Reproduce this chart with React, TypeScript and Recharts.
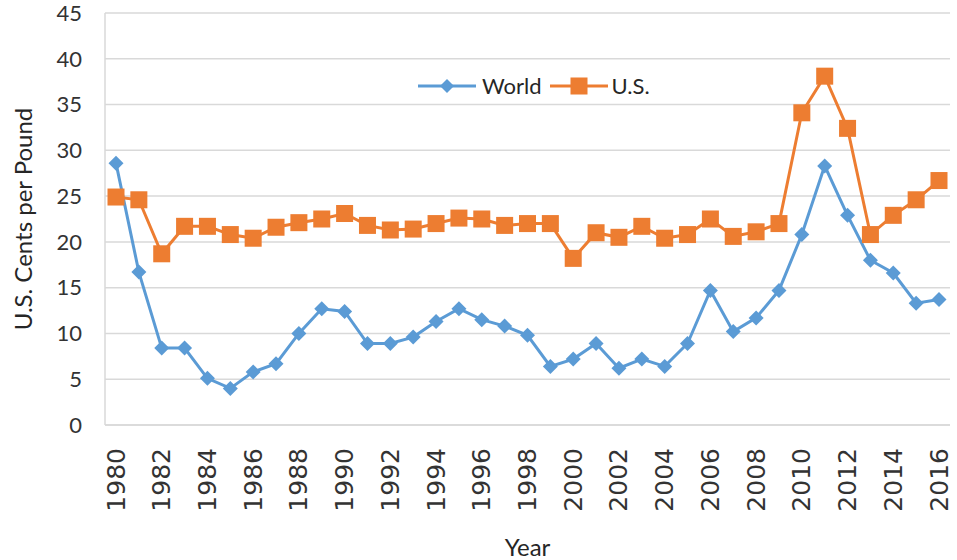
import { LineChart, Line, XAxis, YAxis, CartesianGrid } from "recharts";

const years = [
  "1980", "1981", "1982", "1983", "1984", "1985", "1986", "1987", "1988", "1989",
  "1990", "1991", "1992", "1993", "1994", "1995", "1996", "1997", "1998", "1999",
  "2000", "2001", "2002", "2003", "2004", "2005", "2006", "2007", "2008", "2009",
  "2010", "2011", "2012", "2013", "2014", "2015", "2016",
];

const world = [
  28.6, 16.7, 8.4, 8.4, 5.1, 4.0, 5.8, 6.7, 10.0, 12.7,
  12.4, 8.9, 8.9, 9.6, 11.3, 12.7, 11.5, 10.8, 9.8, 6.4,
  7.2, 8.9, 6.2, 7.2, 6.4, 8.9, 14.7, 10.2, 11.7, 14.7,
  20.8, 28.3, 22.9, 18.0, 16.6, 13.3, 13.7,
];

const us = [
  24.9, 24.6, 18.7, 21.7, 21.7, 20.8, 20.4, 21.6, 22.1, 22.5,
  23.1, 21.8, 21.3, 21.4, 22.0, 22.6, 22.5, 21.8, 22.0, 22.0,
  18.2, 21.0, 20.5, 21.7, 20.4, 20.8, 22.5, 20.6, 21.1, 22.0,
  34.1, 38.1, 32.4, 20.8, 22.9, 24.6, 26.7,
];

const yTicks = [0, 5, 10, 15, 20, 25, 30, 35, 40, 45];

const data = years.map((year, i) => ({ year, world: world[i], us: us[i] }));

const BLUE = "#5B9BD5";
const ORANGE = "#ED7D31";

const Diamond = (props: any) => {
  const { cx, cy } = props;
  if (cx == null || cy == null) return null;
  const r = 7.5;
  return (
    <polygon
      points={`${cx},${cy - r} ${cx + r},${cy} ${cx},${cy + r} ${cx - r},${cy}`}
      fill={BLUE}
    />
  );
};

const Square = (props: any) => {
  const { cx, cy } = props;
  if (cx == null || cy == null) return null;
  const s = 17;
  return <rect x={cx - s / 2} y={cy - s / 2} width={s} height={s} fill={ORANGE} />;
};

const YearTick = (props: any) => {
  const { x, y, payload } = props;
  const ty = y + 15;
  return (
    <text
      x={x}
      y={ty}
      transform={`rotate(-90, ${x}, ${ty})`}
      textAnchor="end"
      dominantBaseline="central"
      fontFamily="DejaVu Sans"
      fontSize={25}
      fill="#333"
    >
      {payload.value}
    </text>
  );
};

// legend sits inside the plot, so it is drawn as an overlay
const LegendBox = () => (
  <div
    style={{
      position: "absolute",
      left: 418,
      top: 72,
      display: "flex",
      alignItems: "center",
      fontFamily: "Lato",
      fontSize: 22,
      color: "#262626",
    }}
  >
    <svg width={58} height={16}>
      <line x1={0} y1={8} x2={58} y2={8} stroke={BLUE} strokeWidth={3} />
      <polygon points="29,1 36,8 29,15 22,8" fill={BLUE} />
    </svg>
    <span style={{ marginLeft: 6, marginRight: 8 }}>World</span>
    <svg width={58} height={18}>
      <line x1={0} y1={9} x2={58} y2={9} stroke={ORANGE} strokeWidth={3} />
      <rect x={20.5} y={0.5} width={17} height={17} fill={ORANGE} />
    </svg>
    <span style={{ marginLeft: 4 }}>U.S.</span>
  </div>
);

const App = () => {
  return (
    <div style={{ position: "absolute", left: 0, top: 0, width: 957, height: 560, background: "#fff" }}>
      <LineChart width={957} height={560} data={data} margin={{ top: 13, right: 7, bottom: 0, left: 0 }}>
        <CartesianGrid vertical={false} stroke="#D9D9D9" strokeWidth={1.5} />
        <XAxis
          dataKey="year"
          interval={1}
          height={135}
          padding={{ left: 11, right: 11 }}
          tickLine={false}
          axisLine={{ stroke: "#D9D9D9", strokeWidth: 1.5 }}
          tick={<YearTick />}
          label={{ value: "Year", position: "insideBottom", offset: 4, fontFamily: "Lato", fontSize: 24, fill: "#262626" }}
        />
        <YAxis
          domain={[0, 45]}
          ticks={yTicks}
          width={105}
          tickLine={false}
          tickSize={0}
          tickMargin={23}
          axisLine={{ stroke: "#D9D9D9", strokeWidth: 1.5 }}
          tick={{ fontFamily: "Lato", fontSize: 22, fill: "#333" }}
          label={(p: any) => {
            const vb = p.viewBox;
            const cy = vb.y + vb.height / 2;
            return (
              <text
                x={22}
                y={cy}
                transform={`rotate(-90, 22, ${cy})`}
                textAnchor="middle"
                dominantBaseline="central"
                fontFamily="Lato"
                fontSize={24}
                fill="#262626"
              >
                U.S. Cents per Pound
              </text>
            );
          }}
        />
        <Line
          dataKey="world"
          name="World"
          stroke={BLUE}
          strokeWidth={3}
          dot={<Diamond />}
          activeDot={false}
          isAnimationActive={false}
        />
        <Line
          dataKey="us"
          name="U.S."
          stroke={ORANGE}
          strokeWidth={3}
          dot={<Square />}
          activeDot={false}
          isAnimationActive={false}
        />
      </LineChart>
      <LegendBox />
    </div>
  );
};

export default App;
